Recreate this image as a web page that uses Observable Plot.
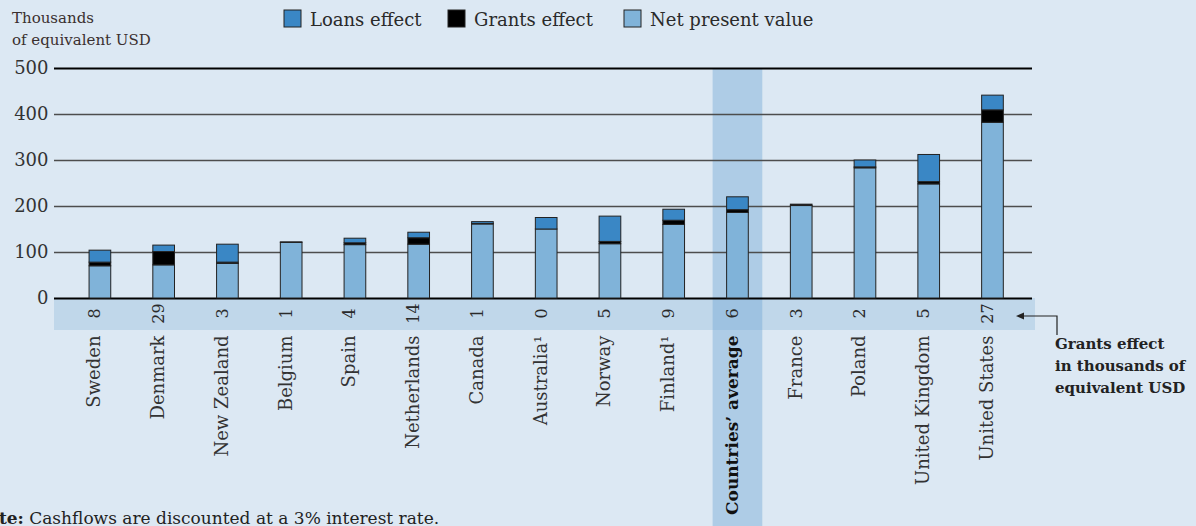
<!DOCTYPE html>
<html><head><meta charset="utf-8">
<script src="https://cdn.jsdelivr.net/npm/d3@7"></script>
<script src="https://cdn.jsdelivr.net/npm/@observablehq/plot@0.6"></script>
<style>
html,body{margin:0;padding:0;background:#dce8f3;overflow:hidden}
#chart{position:relative;width:1196px;height:526px}
svg{display:block}
</style></head><body><div id="chart"></div>
<script>
const countries = ["Sweden","Denmark","New Zealand","Belgium","Spain","Netherlands","Canada","Australia¹","Norway","Finland¹","Countries’ average","France","Poland","United Kingdom","United States"];
const npv    = [70, 72, 75, 121, 116, 117, 161, 150, 118, 160, 186, 201, 283, 248, 382];
const grants = [8, 29, 3, 1, 4, 14, 1, 0, 5, 9, 6, 3, 2, 5, 27];
const loans  = [26, 14, 39, 0, 10, 12, 4, 25, 55, 24, 28, 0, 15, 59, 32];
const yTicks = [0, 100, 200, 300, 400, 500];
const series = ["Net present value", "Grants effect", "Loans effect"];
const seriesColors = ["#80b3d9", "#000000", "#3a87c5"];
const legendOrder = ["Loans effect", "Grants effect", "Net present value"];
const highlight = "Countries’ average";

const rows = [];
countries.forEach((c, i) => {
  rows.push({country: c, series: "Net present value", value: npv[i]});
  rows.push({country: c, series: "Grants effect", value: grants[i]});
  rows.push({country: c, series: "Loans effect", value: loans[i]});
});
const labels = countries.map((c, i) => ({country: c, grant: String(grants[i])}));

const font = "'DejaVu Serif', serif";
const ink = "#2a2a2a";

const plot = Plot.plot({
  width: 1196, height: 526,
  marginTop: 68, marginBottom: 228, marginLeft: 54, marginRight: 164,
  style: {background: "transparent", fontFamily: font, color: ink, overflow: "visible"},
  x: {domain: countries, paddingInner: 0.66, paddingOuter: 0.5, align: 0.55, round: false, axis: null},
  y: {domain: [0, 500], axis: null},
  color: {domain: series, range: seriesColors},
  marks: [
    Plot.barY([highlight], {x: d => d, y1: 500, y2: -497, fill: "rgb(113,167,213)", fillOpacity: 0.43, insetLeft: -14, insetRight: -14}),
    Plot.ruleY([100, 200, 300, 400], {stroke: "#4d4d4d", strokeWidth: 1.3}),
    Plot.ruleY([0, 500], {stroke: "#000", strokeWidth: 2}),
    Plot.axisY(yTicks, {tickSize: 0, tickPadding: 6, fontSize: 18, label: null, fill: "#333"}),
    Plot.barY(rows, {x: "country", y: "value", fill: "series", order: series, stroke: "#222", strokeWidth: 1}),
    Plot.text(labels, {x: "country", text: "grant", frameAnchor: "bottom", dy: 15, rotate: -90, fontSize: 16, fill: ink}),
    Plot.text(labels.filter(d => d.country !== highlight), {x: "country", text: "country", frameAnchor: "bottom", dy: 37, rotate: -90, textAnchor: "end", fontSize: 18, fill: "#333"}),
    Plot.text(labels.filter(d => d.country === highlight), {x: "country", text: "country", frameAnchor: "bottom", dy: 37, rotate: -90, textAnchor: "end", fontSize: 17, fontWeight: "bold", fill: "#111"})
  ]
});
document.getElementById("chart").appendChild(plot);

const svg = d3.select(plot);
const ys = plot.scale("y");
const y0 = ys.apply(0);
// grants strip behind everything
svg.insert("rect", ":first-child")
  .attr("x", 54).attr("y", y0).attr("width", 981).attr("height", 32)
  .attr("fill", "#c0d7ea");

// legend
const legendX = [284, 448, 624];
legendOrder.forEach((s, i) => {
  const g = svg.append("g");
  g.append("rect").attr("x", legendX[i]).attr("y", 10).attr("width", 17).attr("height", 17)
    .attr("fill", seriesColors[series.indexOf(s)]).attr("stroke", "#222").attr("stroke-width", 1);
  g.append("text").attr("x", legendX[i] + 26).attr("y", 26).attr("font-size", 18)
    .attr("text-anchor", "start").attr("font-family", font).attr("fill", ink).text(s);
});

// y title
const yt = svg.append("text").attr("font-family", font).attr("font-size", 15).attr("text-anchor", "start").attr("fill", "#3a2f2f");
yt.append("tspan").attr("x", 12).attr("y", 23).text("Thousands");
yt.append("tspan").attr("x", 12).attr("y", 45).text("of equivalent USD");

// annotation arrow
svg.append("path").attr("d", "M1057,335 L1057,316 L1021,316").attr("fill", "none").attr("stroke", "#222").attr("stroke-width", 1.2);
svg.append("path").attr("d", "M1016,316 L1024,312.5 L1024,319.5 Z").attr("fill", "#222");
const an = svg.append("text").attr("font-family", font).attr("font-size", 15).attr("font-weight", "bold").attr("text-anchor", "start").attr("fill", "#222");
["Grants effect", "in thousands of", "equivalent USD"].forEach((t, i) => {
  an.append("tspan").attr("x", 1055).attr("y", 349 + i * 22).text(t);
});

// note
const note = svg.append("text").attr("x", -28).attr("y", 524).attr("font-family", font).attr("font-size", 17).attr("text-anchor", "start").attr("fill", "#222");
note.append("tspan").attr("font-weight", "bold").text("Note:");
note.append("tspan").text(" Cashflows are discounted at a 3% interest rate.");
</script></body></html>
